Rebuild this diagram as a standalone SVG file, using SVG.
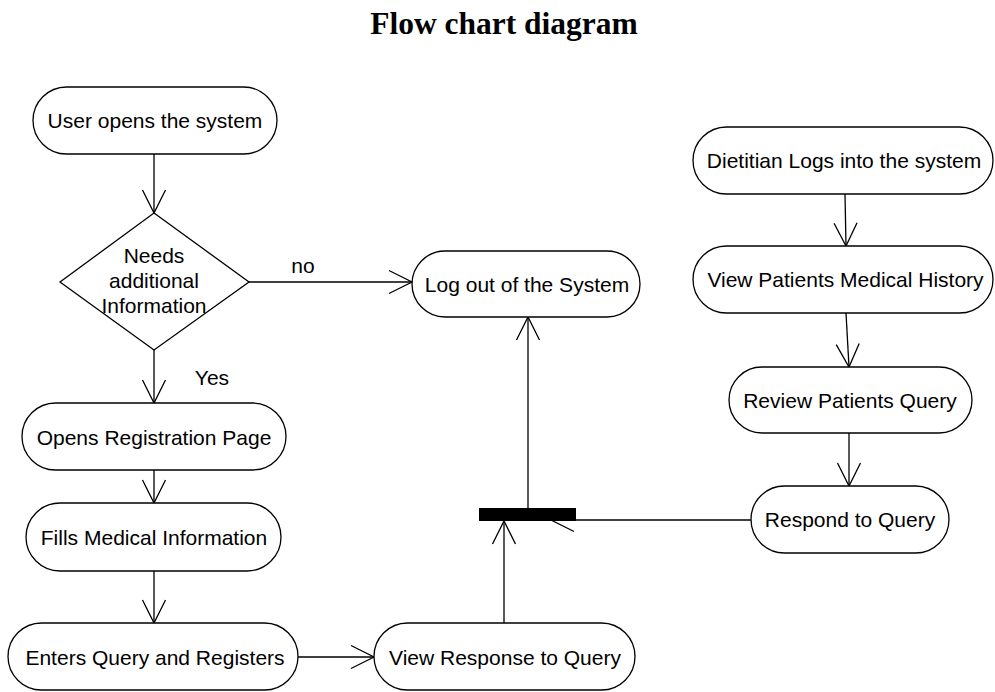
<svg xmlns="http://www.w3.org/2000/svg" width="995" height="692" viewBox="0 0 995 692">
  <style>
    .node { fill: #fff; stroke: #000; stroke-width: 1.3; }
    .lbl { font-family: "Liberation Sans", Arial, sans-serif; font-size: 21px; fill: #000; text-anchor: middle; }
    .edge { fill: none; stroke: #000; stroke-width: 1.3; marker-end: url(#open); }
    .title { font-family: "Liberation Serif", "Times New Roman", serif; font-size: 31.5px; font-weight: bold; text-anchor: middle; fill: #000; }
  </style>
  <defs>
    <marker id="open" viewBox="-25 -13 27 26" refX="0" refY="0" markerWidth="27" markerHeight="26" orient="auto" markerUnits="userSpaceOnUse">
      <path d="M -23 -11.5 L 0 0 L -23 11.5" fill="none" stroke="#000" stroke-width="1.3"/>
    </marker>
  </defs>
  <rect width="995" height="692" fill="#fff"/>

  <text class="title" x="504" y="34">Flow chart diagram</text>

  <!-- connectors -->
  <g id="connectors">
    <path class="edge" d="M154 154 L154 213"/>
    <path class="edge" d="M249 282 L412 282"/>
    <text class="lbl" x="303" y="273">no</text>
    <path class="edge" d="M154 350 L154 403"/>
    <text class="lbl" x="212" y="385">Yes</text>
    <path class="edge" d="M154 470 L154 503"/>
    <path class="edge" d="M154 571 L154 623"/>
    <path class="edge" d="M298 657 L374 657"/>
    <path class="edge" d="M504 623 L504 521"/>
    <path class="edge" d="M528 508 L528 317"/>
    <path class="edge" d="M845 194 L846 246"/>
    <path class="edge" d="M846 313 L849 367"/>
    <path class="edge" d="M849 433 L849 486"/>
    <path class="edge" d="M751 520 L551 520"/>
  </g>

  <!-- user flow -->
  <g id="user-opens">
    <rect class="node" x="33" y="87" width="244" height="67" rx="33.5"/>
    <text class="lbl" x="155" y="128">User opens the system</text>
  </g>
  <g id="needs-info">
    <polygon class="node" points="154,213 249,282 154,350 60,282"/>
    <text class="lbl" x="154" y="263">Needs</text>
    <text class="lbl" x="154" y="288">additional</text>
    <text class="lbl" x="154" y="313">Information</text>
  </g>
  <g id="log-out">
    <rect class="node" x="412" y="251" width="228" height="66" rx="33"/>
    <text class="lbl" x="527" y="292">Log out of the System</text>
  </g>
  <g id="opens-registration">
    <rect class="node" x="22" y="403" width="264" height="67" rx="33.5"/>
    <text class="lbl" x="154" y="444.5">Opens Registration Page</text>
  </g>
  <g id="fills-medical">
    <rect class="node" x="26" y="503" width="255" height="68" rx="34"/>
    <text class="lbl" x="154" y="544.5">Fills Medical Information</text>
  </g>
  <g id="enters-query">
    <rect class="node" x="8" y="623" width="290" height="67" rx="33.5"/>
    <text class="lbl" x="155" y="664.5">Enters Query and Registers</text>
  </g>
  <g id="view-response">
    <rect class="node" x="374" y="623" width="261" height="67" rx="33.5"/>
    <text class="lbl" x="505" y="664.5">View Response to Query</text>
  </g>

  <!-- dietitian flow -->
  <g id="dietitian-logs">
    <rect class="node" x="693" y="127" width="300" height="67" rx="33.5"/>
    <text class="lbl" x="844" y="168">Dietitian Logs into the system</text>
  </g>
  <g id="view-history">
    <rect class="node" x="693" y="246" width="300" height="67" rx="33.5"/>
    <text class="lbl" x="845.5" y="287">View Patients Medical History</text>
  </g>
  <g id="review-query">
    <rect class="node" x="729" y="367" width="243" height="66" rx="33"/>
    <text class="lbl" x="850" y="407.5">Review Patients Query</text>
  </g>
  <g id="respond-query">
    <rect class="node" x="751" y="486" width="198" height="67" rx="33.5"/>
    <text class="lbl" x="850" y="527">Respond to Query</text>
  </g>

  <!-- join bar -->
  <g id="join-bar">
    <rect x="479" y="508" width="97" height="13" fill="#000"/>
  </g>
</svg>
